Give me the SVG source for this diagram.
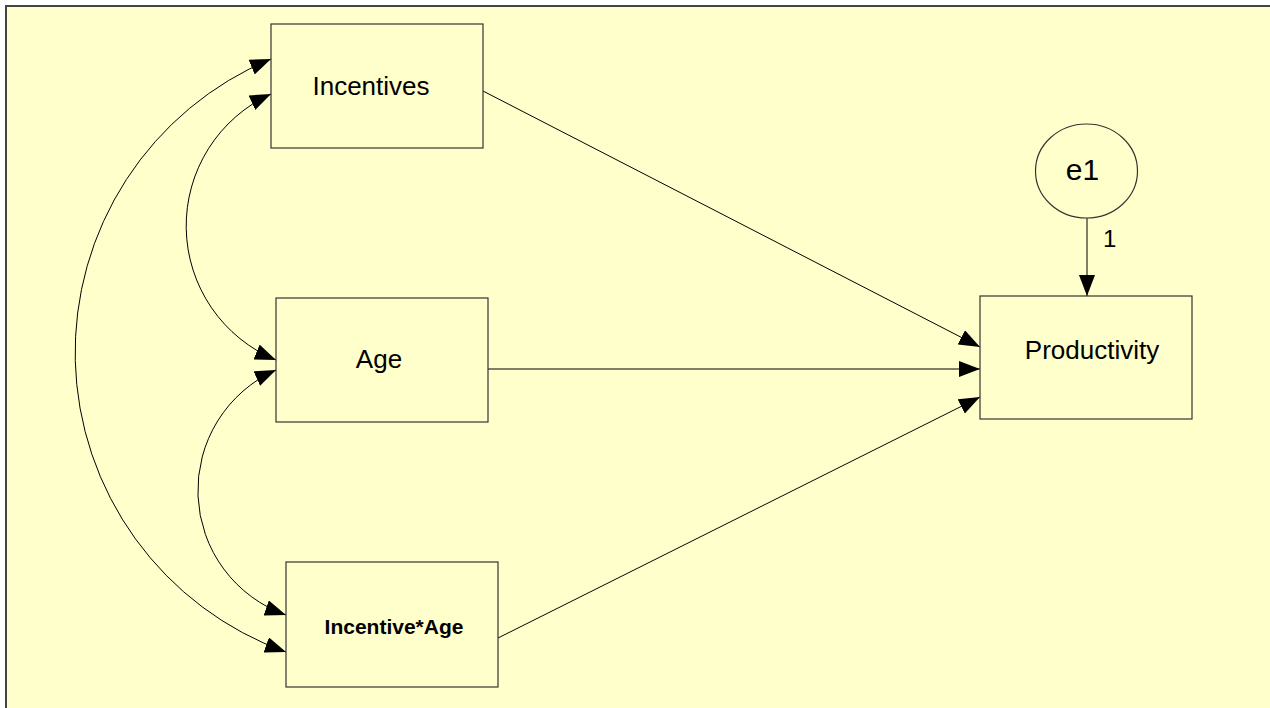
<svg xmlns="http://www.w3.org/2000/svg" width="1270" height="708" viewBox="0 0 1270 708">
  <style>
    .box { fill: #FFFFCC; stroke: #333333; stroke-width: 1.2; }
    .lbl { font-family: "Liberation Sans", Arial, sans-serif; font-size: 26px; fill: #000; text-anchor: middle; }
    .path { fill: none; stroke: #000; stroke-width: 1; }
    .one-way { marker-end: url(#head); }
    .two-way { marker-start: url(#head); marker-end: url(#head); }
  </style>
  <defs>
    <marker id="head" markerUnits="userSpaceOnUse" markerWidth="21" markerHeight="16" refX="21" refY="8" orient="auto-start-reverse">
      <path d="M0,0 L21,8 L0,16 Z" fill="#000"/>
    </marker>
  </defs>

  <!-- canvas frame -->
  <rect x="0" y="0" width="1270" height="708" fill="#FFFFFF"/>
  <rect x="6" y="6" width="1290" height="730" fill="#FFFFCC" stroke="#444444" stroke-width="2"/>

  <!-- paths and covariances -->
  <g id="connectors">
    <path class="path one-way" d="M483,91 L980,347"/>
    <path class="path one-way" d="M488,369 L980,369"/>
    <path class="path one-way" d="M498,638 L980,397"/>
    <path class="path one-way" d="M1087,218 L1087,296"/>
    <path class="path two-way" d="M271,59 A318,318 0 0 0 286,652"/>
    <path class="path two-way" d="M271,94 A145,145 0 0 0 276,360"/>
    <path class="path two-way" d="M276,370 A132,132 0 0 0 286,615"/>
    <text x="1103" y="247" font-family="Liberation Sans, Arial, sans-serif" font-size="24" fill="#000">1</text>
  </g>

  <g id="incentives">
    <rect class="box" x="271" y="24" width="212" height="124"/>
    <text class="lbl" x="371" y="95">Incentives</text>
  </g>

  <g id="age">
    <rect class="box" x="276" y="298" width="212" height="124"/>
    <text class="lbl" x="379" y="368">Age</text>
  </g>

  <g id="incentive-age">
    <rect class="box" x="286" y="562" width="212" height="125"/>
    <text class="lbl" x="394" y="634" font-weight="bold" style="font-size:21px">Incentive*Age</text>
  </g>

  <g id="productivity">
    <rect class="box" x="980" y="296" width="212" height="123"/>
    <text class="lbl" x="1092" y="359">Productivity</text>
  </g>

  <g id="e1">
    <ellipse cx="1086.5" cy="171" rx="51" ry="47" fill="#FFFFCC" stroke="#333333" stroke-width="1.2"/>
    <text class="lbl" x="1082.5" y="180" style="font-size:30px">e1</text>
  </g>
</svg>
